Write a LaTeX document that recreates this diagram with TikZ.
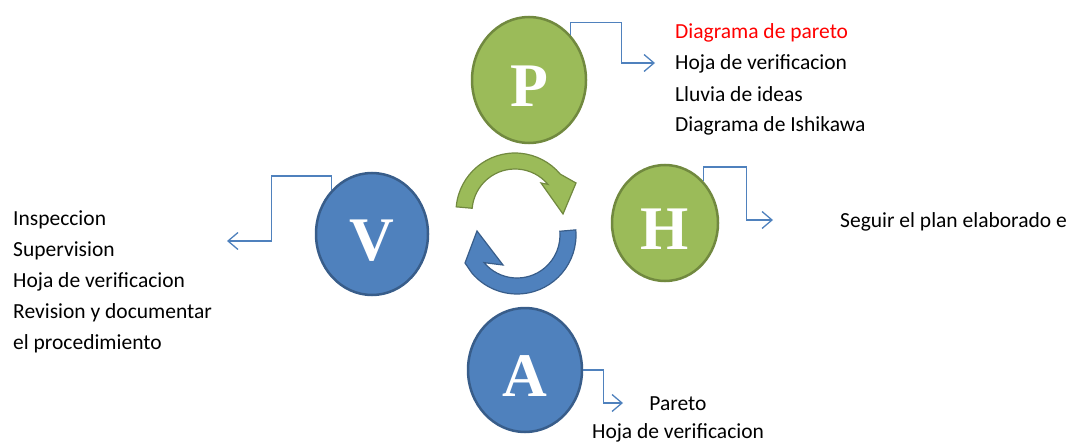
\documentclass[tikz,border=0pt]{standalone}
\usepackage{fontspec}
\setmainfont{Carlito}
\newfontfamily\letterfont{Liberation Serif}
\usetikzlibrary{shapes.geometric,arrows.meta}
\definecolor{ogreen}{HTML}{9BBB59}
\definecolor{ogreendk}{HTML}{71893F}
\definecolor{oblue}{HTML}{4F81BD}
\definecolor{obluedk}{HTML}{385D8A}
\tikzstyle{gball}=[ellipse,draw=ogreendk,fill=ogreen,line width=2.5pt,inner sep=0pt,text=white,text height=52pt,text depth=0pt,font=\letterfont\bfseries\fontsize{62}{62}\selectfont]
\tikzstyle{bball}=[gball,draw=obluedk,fill=oblue]
\tikzstyle{lnk}=[draw=oblue,line width=1.3pt,-{Straight Barb[length=10pt,width=17pt]}]
\tikzstyle{txt}=[anchor=base west,inner sep=0pt,font=\fontsize{21.5}{26}\selectfont]
\tikzstyle{ctxt}=[txt,anchor=base]

\begin{document}
\begin{tikzpicture}[x=1pt,y=-1pt]
	\useasboundingbox (0,0) rectangle (1073,444);
	% the four phases
	\node[gball,minimum width=114,minimum height=126] (P) at (529,80) {P};
	\node[gball,minimum width=106,minimum height=116] (H) at (665,223) {H};
	\node[bball,minimum width=112,minimum height=122] (V) at (372,234) {V};
	\node[bball,minimum width=114,minimum height=124] (A) at (525,370) {A};
	% turning arrows in the middle
	\begin{scope}[shift={(515,212)}]
		\filldraw[fill=ogreen,draw=ogreendk,line width=1.2pt] (185:59) arc[start angle=185,end angle=320,radius=59] -- (61,-29) -- (48,2) -- (26,-29) -- (320:43) arc[start angle=320,end angle=185,radius=43] -- cycle;
	\end{scope}
	\begin{scope}[shift={(517,235)}]
		\filldraw[fill=oblue,draw=obluedk,line width=1.2pt] (-5:59) arc[start angle=-5,end angle=140,radius=59] -- (-52,28) -- (-40,-4) -- (-14,30) -- (140:43) arc[start angle=140,end angle=-5,radius=43] -- cycle;
	\end{scope}
	% lists
	\node[txt,text=red] (pl1) at (675,39) {Diagrama de pareto};
	\node[txt] (pl2) at (675,70) {Hoja de verificacion};
	\node[txt] (pl3) at (675,101) {Lluvia de ideas};
	\node[txt] (pl4) at (675,131) {Diagrama de Ishikawa};
	\node[txt] (hl1) at (840,227) {Seguir el plan elaborado e};
	\node[txt] (vl1) at (13,225) {Inspeccion};
	\node[txt] (vl2) at (13,256) {Supervision};
	\node[txt] (vl3) at (13,287) {Hoja de verificacion};
	\node[txt] (vl4) at (13,318) {Revision y documentar};
	\node[txt] (vl5) at (13,349) {el procedimiento};
	\node[ctxt] (al1) at (678,410) {Pareto};
	\node[ctxt] (al2) at (678,438) {Hoja de verificacion};
	% connectors
	\coordinate (Pend) at (655,63);
	\coordinate (Hend) at (773,220);
	\coordinate (Vend) at (227,241);
	\coordinate (Aend) at (623,403);
	\draw[lnk] (P.north east) |- ++(51,-12) |- (Pend);
	\draw[lnk] (H.north east) |- ++(43,-14) |- (Hend);
	\draw[lnk] (V.north west) |- ++(-60,-14) |- (Vend);
	\draw[lnk] (A.east) -- ++(20,0) |- (Aend);
\end{tikzpicture}
\end{document}
